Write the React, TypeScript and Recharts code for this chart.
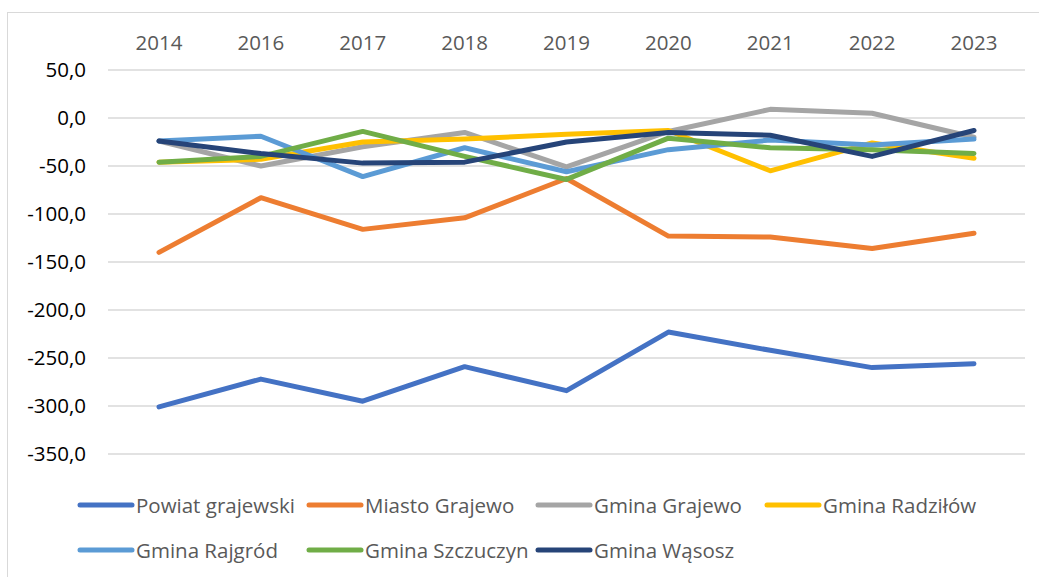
import React from 'react';
import { LineChart, Line, XAxis, YAxis, CartesianGrid } from 'recharts';

const years = ['2014', '2016', '2017', '2018', '2019', '2020', '2021', '2022', '2023'];
const powiatGrajewski = [-301, -272, -295, -259, -284, -223, -242, -260, -256];
const miastoGrajewo = [-140, -83, -116, -104, -63, -123, -124, -136, -120];
const gminaGrajewo = [-24, -50, -30, -15, -51, -14, 9, 5, -20];
const gminaRadzilow = [-46, -43, -25, -22, -17, -13, -55, -26, -42];
const gminaRajgrod = [-24, -19, -61, -31, -56, -33, -23, -28, -22];
const gminaSzczuczyn = [-46, -40, -14, -40, -64, -21, -31, -33, -37];
const gminaWasosz = [-24, -37, -47, -46, -25, -15, -18, -40, -13];
const yTicks = [50, 0, -50, -100, -150, -200, -250, -300, -350];

const series = [
  { key: 'p', name: 'Powiat grajewski', values: powiatGrajewski, color: '#4472C4' },
  { key: 'm', name: 'Miasto Grajewo', values: miastoGrajewo, color: '#ED7D31' },
  { key: 'gg', name: 'Gmina Grajewo', values: gminaGrajewo, color: '#A5A5A5' },
  { key: 'gr', name: 'Gmina Radziłów', values: gminaRadzilow, color: '#FFC000' },
  { key: 'gra', name: 'Gmina Rajgród', values: gminaRajgrod, color: '#5B9BD5' },
  { key: 'gs', name: 'Gmina Szczuczyn', values: gminaSzczuczyn, color: '#70AD47' },
  { key: 'gw', name: 'Gmina Wąsosz', values: gminaWasosz, color: '#264478' },
];

const data = years.map((y, i) => {
  const row: Record<string, any> = { year: y };
  series.forEach((s) => (row[s.key] = s.values[i]));
  return row;
});

const FONT = '"Open Sans", sans-serif';

const fmt = (v: number) => v.toFixed(1).replace('.', ',');

const ChartLegend = () => (
  <div
    style={{
      position: 'absolute',
      left: 76,
      top: 493,
      display: 'grid',
      gridTemplateColumns: 'repeat(4, 229px)',
      rowGap: 21,
      fontFamily: FONT,
      fontSize: 20.5,
      color: '#595959',
    }}
  >
    {series.map((s) => (
      <div key={s.key} style={{ display: 'flex', alignItems: 'center', height: 24, whiteSpace: 'nowrap' }}>
        <svg width={59} height={8} style={{ flex: 'none' }}>
          <line x1={4} y1={4} x2={56} y2={4} stroke={s.color} strokeWidth={5} strokeLinecap="round" />
        </svg>
        <span style={{ marginLeft: 1 }}>{s.name}</span>
      </div>
    ))}
  </div>
);

export default function App() {
  return (
    <div style={{ position: 'absolute', left: 0, top: 0, width: 1039, height: 577, background: '#fff', overflow: 'hidden' }}>
      <div
        style={{
          position: 'absolute',
          left: 7,
          top: 12,
          width: 1060,
          height: 600,
          border: '1.5px solid #d9d9d9',
          boxSizing: 'border-box',
        }}
      />
      <div style={{ position: 'absolute', left: 0, top: 0 }}>
        <LineChart
          width={1039}
          height={577}
          data={data}
          margin={{ top: 20, right: 14, bottom: 123, left: 0 }}
        >
          <CartesianGrid vertical={false} stroke="#d9d9d9" strokeWidth={1.5} />
          <XAxis
            dataKey="year"
            orientation="top"
            height={50}
            axisLine={false}
            tickLine={false}
            tickSize={0}
            tickMargin={20}
            padding={{ left: 51, right: 51 }}
            tick={{ fill: '#595959', fontSize: 20.5, fontFamily: FONT }}
            interval={0}
          />
          <YAxis
            width={108}
            domain={[-350, 50]}
            ticks={yTicks}
            axisLine={false}
            tickLine={false}
            tickSize={0}
            tickMargin={22}
            tickFormatter={fmt}
            tick={{ fill: '#000', fontSize: 20.5, fontFamily: FONT }}
            interval={0}
          />
          {series.map((s) => (
            <Line
              key={s.key}
              dataKey={s.key}
              name={s.name}
              stroke={s.color}
              strokeWidth={5}
              strokeLinecap="round"
              strokeLinejoin="round"
              dot={false}
              activeDot={false}
              isAnimationActive={false}
            />
          ))}
        </LineChart>
      </div>
      <ChartLegend />
    </div>
  );
}
